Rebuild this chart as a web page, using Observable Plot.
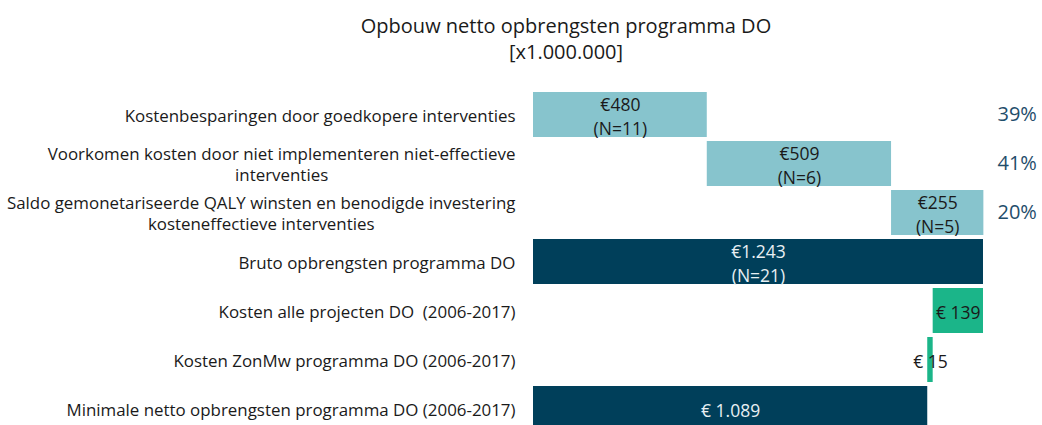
<!DOCTYPE html>
<html><head><meta charset="utf-8">
<script src="https://cdn.jsdelivr.net/npm/d3@7"></script>
<script src="https://cdn.jsdelivr.net/npm/@observablehq/plot@0.6"></script>
<style>
html,body{margin:0;padding:0;background:#fff;width:1042px;height:425px;overflow:hidden;font-family:"Open Sans",Lato,sans-serif}
#title{position:relative;height:80px;width:1042px}
#title div{position:absolute;left:566px;transform:translateX(-50%);white-space:nowrap;font-size:20px;color:#1a1a1a;line-height:26px}
#chart svg{display:block;overflow:visible}
</style></head>
<body>
<div id="title"><div style="top:13px">Opbouw netto opbrengsten programma DO</div><div style="top:39px">[x1.000.000]</div></div>
<div id="chart"></div>
<script>
const categories = [
  "Kostenbesparingen door goedkopere interventies",
  "Voorkomen kosten door niet implementeren niet-effectieve\ninterventies",
  "Saldo gemonetariseerde QALY winsten en benodigde investering\nkosteneffectieve interventies",
  "Bruto opbrengsten programma DO",
  "Kosten alle projecten DO  (2006-2017)",
  "Kosten ZonMw programma DO (2006-2017)",
  "Minimale netto opbrengsten programma DO (2006-2017)"
];
const values = [480, 509, 255, 1243, 139, 15, 1089];
const kinds = ["plus", "plus", "plus", "total", "minus", "minus", "total"];
const valueLabels = ["€480\n(N=11)", "€509\n(N=6)", "€255\n(N=5)", "€1.243\n(N=21)", "€ 139", "€ 15", "€ 1.089"];
const shares = ["39%", "41%", "20%"];

const fillByKind = {plus: "#87c4cd", total: "#003f5a", minus: "#1bb589"};
const textByKind = {plus: "#1a1a1a", total: "#e8eff3", minus: "#1a1a1a"};
const FONT = "'Open Sans', Lato, sans-serif";

let running = 0;
const rows = categories.map((cat, i) => {
  const v = values[i], k = kinds[i];
  let x1, x2;
  if (k === "plus") { x1 = running; x2 = running + v; running = x2; }
  else if (k === "total") { x1 = 0; x2 = v; running = v; }
  else { x2 = running; x1 = running - v; running = x1; }
  return {cat, x1, x2, mid: (x1 + x2) / 2, kind: k, label: valueLabels[i], share: shares[i]};
});

const LABEL_SIZE = 16.9;
const ctx = document.createElement("canvas").getContext("2d");
ctx.font = `${LABEL_SIZE}px 'Open Sans'`;
const labelMarks = rows.map(r => {
  const lines = r.cat.split("\n");
  const w = Math.max(...lines.map(l => ctx.measureText(l).width));
  const multi = lines.length > 1;
  return Plot.text([r], {
    y: "cat", text: "cat", frameAnchor: "left",
    textAnchor: multi ? "middle" : "end",
    dx: multi ? -18 - w / 2 : -18,
    fontSize: LABEL_SIZE, lineHeight: 1.25, fill: "#1a1a1a"
  });
});

const plot = Plot.plot({
  width: 1042, height: 345,
  marginLeft: 533, marginRight: 59, marginTop: 10, marginBottom: 0,
  style: {fontFamily: FONT, background: "transparent", overflow: "visible"},
  x: {domain: [0, 1243], axis: null},
  y: {domain: categories, range: [10, 353], paddingInner: 0.08, paddingOuter: 0.04, axis: null},
  marks: [
    Plot.barX(rows, {y: "cat", x1: "x1", x2: "x2", fill: d => fillByKind[d.kind]}),
    Plot.text(rows, {y: "cat", x: "mid", text: "label", fill: d => textByKind[d.kind], fontSize: 17.5, lineHeight: 1.37}),
    Plot.text(rows.filter(r => r.share), {y: "cat", text: "share", frameAnchor: "right", textAnchor: "start", dx: 14, fontSize: 20, fill: "#1f4d6b"}),
    ...labelMarks
  ]
});
document.getElementById("chart").appendChild(plot);
</script>
</body></html>
